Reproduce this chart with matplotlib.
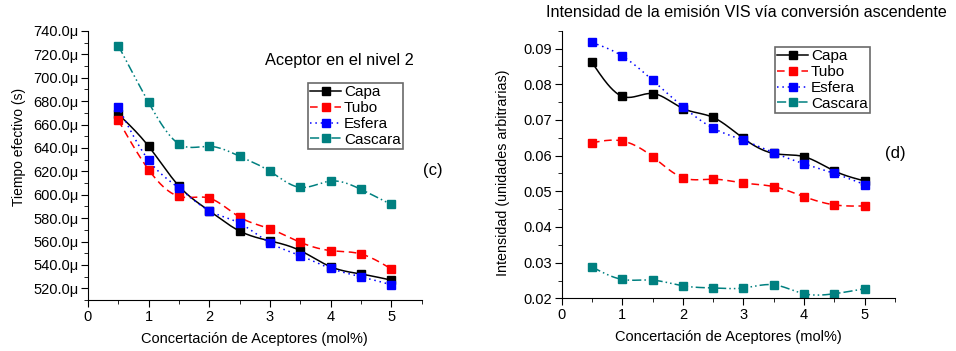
import numpy as np
import matplotlib
matplotlib.use("Agg")
import matplotlib.pyplot as plt
from matplotlib.ticker import MultipleLocator, FuncFormatter

plt.rcParams['font.family'] = ['Liberation Sans', 'DejaVu Sans']

conc = [0.5, 1.0, 1.5, 2.0, 2.5, 3.0, 3.5, 4.0, 4.5, 5.0]
series = ['Capa', 'Tubo', 'Esfera', 'Cascara']

# tiempo efectivo en microsegundos
t_capa = [668.9, 641.4, 607.4, 586.3, 569.0, 560.6, 552.3, 538.5, 532.3, 527.1]
t_tubo = [663.7, 621.4, 598.6, 597.1, 580.9, 570.9, 559.4, 552.3, 549.4, 536.6]
t_esfera = [675.1, 629.5, 605.7, 586.3, 575.7, 558.9, 548.0, 537.1, 530.0, 523.1]
t_cascara = [727.4, 678.9, 643.4, 641.4, 632.9, 620.0, 606.3, 611.7, 604.6, 591.7]

# intensidad VIS
i_capa = [0.0861, 0.0766, 0.0774, 0.0732, 0.0707, 0.0648, 0.0606, 0.0597, 0.0557, 0.0529]
i_tubo = [0.0636, 0.0641, 0.0597, 0.0538, 0.0534, 0.0523, 0.0513, 0.0485, 0.0462, 0.0459]
i_esfera = [0.0917, 0.0879, 0.0811, 0.0737, 0.0677, 0.0643, 0.0608, 0.0577, 0.0550, 0.0519]
i_cascara = [0.0288, 0.0253, 0.0251, 0.0235, 0.0229, 0.0229, 0.0238, 0.0213, 0.0213, 0.0227]

colors = ['black', 'red', 'blue', '#008080']
styles = ['-', (0, (5, 3)), (0, (1, 2.5)), (0, (6, 2, 1, 2, 1, 2))]


def spline(x, y, n=300):
    # natural cubic spline through the points, only for drawing the curve
    x = np.asarray(x, float)
    y = np.asarray(y, float)
    m = len(x)
    h = np.diff(x)
    A = np.zeros((m, m))
    b = np.zeros(m)
    A[0, 0] = A[-1, -1] = 1
    for i in range(1, m - 1):
        A[i, i - 1] = h[i - 1]
        A[i, i] = 2 * (h[i - 1] + h[i])
        A[i, i + 1] = h[i]
        b[i] = 6 * ((y[i + 1] - y[i]) / h[i] - (y[i] - y[i - 1]) / h[i - 1])
    M = np.linalg.solve(A, b)
    xs = np.linspace(x[0], x[-1], n)
    k = np.clip(np.searchsorted(x, xs) - 1, 0, m - 2)
    t0 = xs - x[k]
    t1 = x[k + 1] - xs
    hk = h[k]
    ys = (M[k] * t1 ** 3 + M[k + 1] * t0 ** 3) / (6 * hk) \
        + (y[k] / hk - M[k] * hk / 6) * t1 + (y[k + 1] / hk - M[k + 1] * hk / 6) * t0
    return xs, ys


def draw(ax, data, legend_corner):
    for name, y, c, ls in zip(series, data, colors, styles):
        xs, ys = spline(conc, y)
        ax.plot(xs, ys, color=c, linestyle=ls, linewidth=1.1)
        ax.plot(conc, y, 's', color=c, markersize=5.5)
        ax.plot([], [], color=c, linestyle=ls, linewidth=1.1, marker='s',
                markersize=5.5, label=name)
    ax.spines['top'].set_visible(False)
    ax.spines['right'].set_visible(False)
    ax.set_xlim(0, 5.5)
    ax.xaxis.set_major_locator(MultipleLocator(1))
    ax.xaxis.set_minor_locator(MultipleLocator(0.5))
    ax.tick_params(which='major', direction='out', length=5, labelsize=10.5, pad=2)
    ax.tick_params(which='minor', direction='out', length=3)
    ax.set_xlabel('Concertación de Aceptores (mol%)', fontsize=10.5, labelpad=6)
    leg = ax.legend(loc='upper right', fontsize=11, frameon=True, fancybox=False,
                    handlelength=2.0, handletextpad=0.2, borderpad=0.15,
                    labelspacing=0.12, borderaxespad=0.0,
                    bbox_to_anchor=legend_corner, bbox_transform=fig.transFigure)
    leg.get_frame().set_edgecolor('#444444')
    leg.get_frame().set_linewidth(1.2)
    return leg


fig = plt.figure(figsize=(9.56, 3.51), dpi=100)

ax1 = fig.add_axes([0.092, 0.145, 0.349, 0.767])
draw(ax1, [t_capa, t_tubo, t_esfera, t_cascara], (403 / 956, 1 - 83 / 351))
ax1.set_ylim(510, 740)
ax1.yaxis.set_major_locator(MultipleLocator(20))
ax1.yaxis.set_minor_locator(MultipleLocator(10))
ax1.yaxis.set_major_formatter(FuncFormatter(lambda v, p: '%.1f\u03bc' % v))
ax1.set_ylabel('Tiempo efectivo (s)', fontsize=10)
ax1.yaxis.set_label_coords(-0.186, 0.57)
ax1.text(0.53, 0.89, 'Aceptor en el nivel 2', transform=ax1.transAxes,
         fontsize=11.8, ha='left', va='center')
ax1.text(1.005, 0.483, '(c)', transform=ax1.transAxes, fontsize=12,
         ha='left', va='center')

ax2 = fig.add_axes([0.5876, 0.150, 0.3485, 0.7625])
draw(ax2, [i_capa, i_tubo, i_esfera, i_cascara], (870 / 956, 1 - 47 / 351))
ax2.set_ylim(0.02, 0.095)
ax2.yaxis.set_major_locator(MultipleLocator(0.01))
ax2.yaxis.set_minor_locator(MultipleLocator(0.005))
ax2.yaxis.set_major_formatter(FuncFormatter(lambda v, p: '%.2f' % v))
ax2.set_ylabel('Intensidad (unidades arbitrarias)', fontsize=10.3)
ax2.yaxis.set_label_coords(-0.155, 0.468)
ax2.text(0.97, 0.54, '(d)', transform=ax2.transAxes, fontsize=12,
         ha='left', va='center')
fig.text(0.781, 0.963, 'Intensidad de la emisión VIS vía conversión ascendente',
         fontsize=11.6, ha='center', va='center')

fig.savefig('out.png', dpi=100)
